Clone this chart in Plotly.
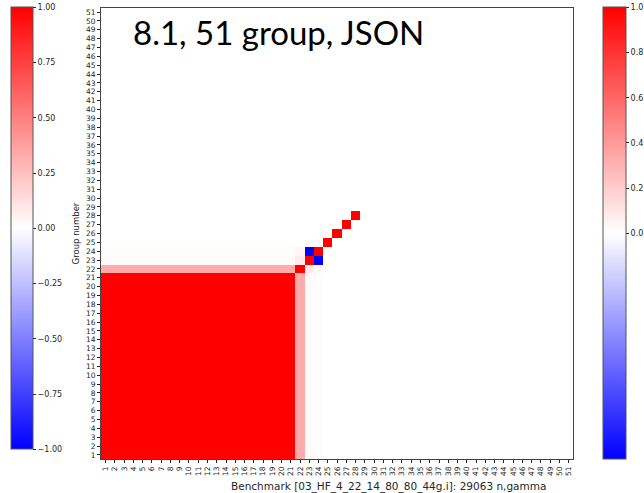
import numpy as np
import plotly.graph_objects as go

# Group numbering of the 51-group structure
groups = list(range(1, 52))

# Correlation structure of the benchmark sensitivities
block_groups = list(range(1, 22))          # fully correlated low-energy block
block_corr = 1.0
g22_block_corr = 0.33                     # group 22 against groups 1-21
g23_block_corr = 0.015                    # group 23 against groups 1-21
g24_block_corr = 0.01                     # group 24 against groups 1-21
diag_groups = [22, 23, 24, 25, 26, 27, 28]
diag_corr = [1.0, 1.0, 1.0, 1.0, 1.0, 1.0, 1.0]
pair_groups = [(22, 23), (22, 24), (23, 24)]
pair_corr = [0.08, 0.03, -1.0]

n = len(groups)
z = np.zeros((n, n))
for i in block_groups:
    for j in block_groups:
        z[i - 1, j - 1] = block_corr
    z[21, i - 1] = z[i - 1, 21] = g22_block_corr
    z[22, i - 1] = z[i - 1, 22] = g23_block_corr
    z[23, i - 1] = z[i - 1, 23] = g24_block_corr
for g, v in zip(diag_groups, diag_corr):
    z[g - 1, g - 1] = v
for (a, b), v in zip(pair_groups, pair_corr):
    z[a - 1, b - 1] = z[b - 1, a - 1] = v

bwr = [[0.0, "rgb(0,0,255)"], [0.5, "rgb(255,255,255)"], [1.0, "rgb(255,0,0)"]]

W, H = 644, 493
px_l, px_r, px_t, px_b = 101, 573.3, 7.6, 459.4
txt = "#262626"
tickfont = dict(family="DejaVu Sans", size=7.5, color=txt)
cbfont = dict(family="DejaVu Sans", size=8, color=txt)

cb_left_vals = [-1.0, -0.75, -0.5, -0.25, 0.0, 0.25, 0.5, 0.75, 1.0]
cb_left_text = ["\u22121.00", "\u22120.75", "\u22120.50", "\u22120.25", "0.00",
                "0.25", "0.50", "0.75", "1.00"]
cb_right_vals = [0.0, 0.2, 0.4, 0.6, 0.8, 1.0]
cb_right_text = ["0.0", "0.2", "0.4", "0.6", "0.8", "1.0"]

fig = go.Figure()
fig.add_trace(go.Heatmap(
    x=groups, y=groups, z=z, zmin=-1, zmax=1, colorscale=bwr,
    colorbar=dict(
        xref="container", yref="container",
        x=11 / W, xanchor="left", y=1 - 7.3 / H, yanchor="top",
        thickness=22, thicknessmode="pixels", len=442, lenmode="pixels",
        xpad=0, ypad=0, outlinecolor="#555", outlinewidth=1,
        tickvals=cb_left_vals, ticktext=cb_left_text, ticks="outside",
        ticklen=3, tickcolor=txt, tickfont=cbfont,
    ),
))
# second colour scale drawn on the right-hand side
fig.add_trace(go.Scatter(
    x=[None], y=[None], mode="markers", hoverinfo="skip", showlegend=False,
    marker=dict(
        color=[0], cmin=-1, cmax=1, colorscale=bwr, showscale=True,
        colorbar=dict(
            xref="container", yref="container",
            x=602.7 / W, xanchor="left", y=1 - 7.3 / H, yanchor="top",
            thickness=23, thicknessmode="pixels", len=452, lenmode="pixels",
            xpad=0, ypad=0, outlinecolor="#555", outlinewidth=1,
            tickvals=cb_right_vals, ticktext=cb_right_text, ticks="outside",
            ticklen=3, tickcolor=txt, tickfont=cbfont,
        ),
    ),
))

axis_common = dict(showline=True, mirror=True, linecolor="#444", linewidth=1,
                   ticks="outside", ticklen=3, tickcolor=txt, showgrid=False,
                   zeroline=False, tickfont=tickfont, tickvals=groups,
                   ticktext=[str(g) for g in groups], range=[0.5, 51.5])

fig.update_layout(
    width=W, height=H, margin=dict(l=0, r=0, t=0, b=0, autoexpand=False),
    paper_bgcolor="white", plot_bgcolor="white",
    xaxis=dict(domain=[px_l / W, px_r / W], tickangle=-90, **axis_common),
    yaxis=dict(domain=[1 - px_b / H, 1 - px_t / H], **axis_common,
               title=dict(text="Group number",
                          font=dict(family="DejaVu Sans", size=8.5, color=txt), standoff=4)),
    annotations=[
        dict(text="8.1, 51 group, JSON", xref="paper", yref="paper",
             x=131 / W, y=1 - 32 / H, xanchor="left", yanchor="middle",
             showarrow=False, font=dict(family="Lato", size=33, color="black")),
        dict(text="Benchmark [03_HF_4_22_14_80_80_44g.i]: 29063 n,gamma",
             xref="paper", yref="paper", x=388.5 / W, y=1 - 486 / H,
             xanchor="center", yanchor="middle", showarrow=False,
             font=dict(family="DejaVu Sans", size=10.5, color=txt)),
    ],
)

fig.write_html("out.html")
